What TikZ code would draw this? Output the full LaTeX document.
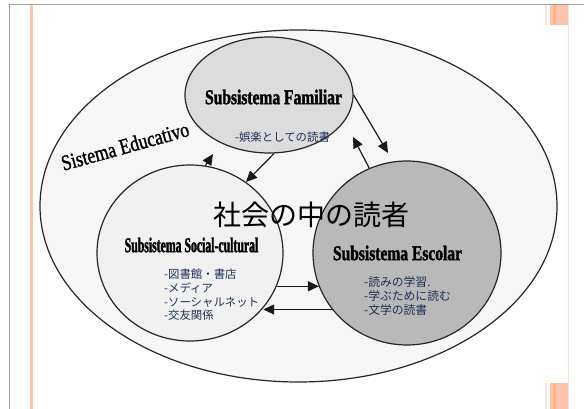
\documentclass[tikz,border=0pt]{standalone}
\usepackage{fontspec}
\setmainfont{Liberation Serif}
\newfontfamily\jpfont{Noto Sans CJK JP}
\newfontfamily\titlefont[FakeBold=1.6,FakeStretch=0.74]{Liberation Serif Bold}
\newfontfamily\soctitlefont[FakeBold=1.6,FakeStretch=0.56]{Liberation Serif Bold}
\newfontfamily\edufont[FakeBold=1.2,FakeStretch=0.8]{Liberation Serif}
\usetikzlibrary{shapes.geometric,arrows.meta}
\definecolor{outerfill}{HTML}{F6F6F6}
\definecolor{famfill}{HTML}{DCDCDC}
\definecolor{socfill}{HTML}{F1F1F1}
\definecolor{escfill}{HTML}{B9B9B9}
\definecolor{navytext}{HTML}{1F2F55}
\definecolor{framegray}{HTML}{A0A0A0}
\definecolor{deco}{HTML}{FFC4AE}
\definecolor{decolight}{HTML}{FFE0D4}
\begin{document}
\begin{tikzpicture}[x=1pt,y=-1pt,
  sysbox/.style={ellipse, draw=black!85, line width=1.2pt, inner sep=0pt},
  titletext/.style={font=\titlefont\fontsize{21}{23}\selectfont, inner sep=0pt},
  jpitem/.style={font=\jpfont\fontsize{11.4}{13.6}\selectfont, text=navytext, align=left, inner sep=0pt},
  arr/.style={line width=1.2pt, draw=black!90, -{Triangle[length=11pt,width=10pt]}}]
\useasboundingbox (0,0) rectangle (584,409);
\fill[white] (0,0) rectangle (584,409);
% slide frame
\draw[framegray, line width=1.4pt] (9.5,409) -- (9.5,4.5) -- (584,4.5);
\fill[deco] (29.5,5) rectangle (32.5,409);
\fill[decolight] (567.5,5) rectangle (569,409);
\fill[decolight] (545,5) rectangle (547,25);
\fill[deco] (550,5) rectangle (568,25);
\fill[deco!80!orange] (553,5) rectangle (556,25);
\fill[decolight] (545,383) rectangle (547,409);
\fill[deco] (550,383) rectangle (568,409);
\fill[deco!80!orange] (553,383) rectangle (556,409);
% systems
\node[sysbox, fill=outerfill, minimum width=517pt, minimum height=352pt] (edu) at (298.5,206) {};
\node[sysbox, fill=famfill, minimum width=168pt, minimum height=116pt] (fam) at (269,95) {};
\node[sysbox, fill=socfill, minimum width=186pt, minimum height=176pt] (soc) at (190,253) {};
\node[sysbox, fill=escfill, minimum width=188pt, minimum height=184pt] (esc) at (407,253) {};
% labels
\node[font=\edufont\fontsize{22}{24}\selectfont, rotate=15.5, inner sep=0pt] (edut) at (125,146) {Sistema Educativo};
\node[titletext] (famt) at (273.5,97) {Subsistema Familiar};
\node[titletext, font=\soctitlefont\fontsize{21}{23}\selectfont] (soct) at (191.5,245) {Subsistema Social-cultural};
\node[titletext] (esct) at (397.5,253) {Subsistema Escolar};
\node[jpitem] (famitem) at (282.5,137) {-娯楽としての読書};
\node[jpitem, anchor=west] (socitem) at (164,295) {-図書館・書店\\-メディア\\-ソーシャルネット\\-交友関係};
\node[jpitem, anchor=west, font=\jpfont\fontsize{11.8}{14}\selectfont] (escitem) at (364,296) {-読みの学習.\\-学ぶために読む\\-文学の読書};
\node[font=\jpfont\fontsize{28}{30}\selectfont, inner sep=0pt] (center) at (311,215) {社会の中の読者};
% connectors
\coordinate (a1e) at (388,153);
\coordinate (a2e) at (353,137);
\coordinate (a3e) at (246,182);
\coordinate (a4e) at (213,154);
\draw[arr] (fam.east) -- (a1e);
\draw[arr] (esc.114) -- (a2e);
\draw[arr] (fam.-85) -- (a3e);
\draw[arr] (soc.80) -- (a4e);
\draw[arr] (soc.-21) -- (esc.-159 |- soc.-21);
\draw[arr] (esc.-143) -- (soc.-37 |- esc.-143);
\end{tikzpicture}
\end{document}
